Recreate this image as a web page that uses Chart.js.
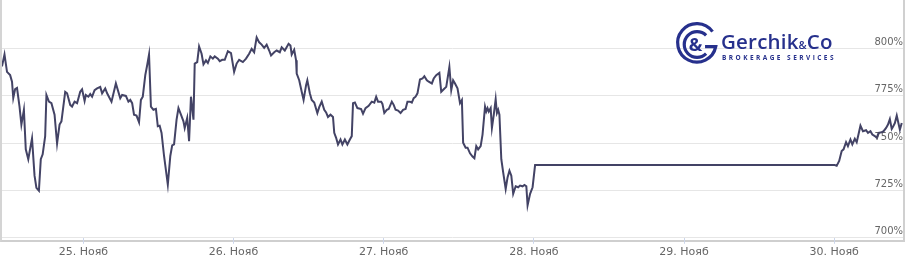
<!DOCTYPE html>
<html>
<head>
<meta charset="utf-8">
<script src="https://cdn.jsdelivr.net/npm/chart.js@4.4.0/dist/chart.umd.min.js"></script>
<style>
  html, body { margin: 0; padding: 0; background: #fff; overflow: hidden; }
  #wrap { position: relative; width: 906px; height: 272px; }
  #frame {
    position: absolute; left: 0; top: -4px; width: 901px; height: 244px;
    border-left: 2px solid #d4d4d4; border-right: 2px solid #d0d0d0; border-bottom: 2px solid #cfcfcf;
  }
  #myChart { position: absolute; left: 0; top: 0; }
  #logo { position: absolute; left: 673px; top: 21px; color: #26308c; }
  #logo svg { position: absolute; left: 0; top: 0; }
  #logo .name {
    position: absolute; left: 48px; top: 10px; white-space: nowrap;
    font: 600 20.5px/20px "Open Sans", sans-serif; letter-spacing: 0.2px;
  }
  #logo .name small { font-size: 11px; font-weight: 600; letter-spacing: 0; }
  #logo .sub {
    position: absolute; left: 49px; top: 33px; white-space: nowrap;
    font: 700 6.5px/8px "Open Sans", sans-serif; letter-spacing: 2.45px;
  }
</style>
</head>
<body>
<div id="wrap">
  <div id="frame"></div>
  <canvas id="myChart" width="906" height="272"></canvas>
  <div id="logo">
    <svg width="47" height="47" viewBox="0 0 44 44">
      <path d="M 37 10 A 18 18 0 1 0 40 24 L 30 24" fill="none" stroke="#26308c" stroke-width="3"/>
      <path d="M 31 13.5 A 12 12 0 1 0 31 30.5" fill="none" stroke="#26308c" stroke-width="3"/>
      <text x="21" y="28" text-anchor="middle" font-family="Open Sans" font-weight="700" font-size="17" fill="#26308c">&amp;</text>
    </svg>
    <span class="name">Gerchik<small>&amp;</small>Co</span>
    <span class="sub">BROKERAGE SERVICES</span>
  </div>
</div>

<script>
// hours since 25 Nov 00:00
var hours = [
  -13.0, -12.6, -12.2, -11.7, -11.4, -11.2, -10.9, -10.6, -10.2, -9.9,
  -9.5, -9.2, -8.8, -8.2, -7.8, -7.5, -7.1, -6.8, -6.5, -6.1,
  -5.9, -5.5, -5.1, -4.6, -4.2, -3.8, -3.5, -2.9, -2.6, -2.1,
  -1.8, -1.4, -1.0, -0.5, -0.2, 0.2, 0.4, 0.8, 1.1, 1.4,
  1.8, 2.2, 2.7, 3.0, 3.5, 3.8, 4.5, 5.2, 5.9, 6.2,
  6.8, 7.2, 7.5, 7.8, 8.1, 8.5, 8.9, 9.2, 9.5, 9.9,
  10.2, 10.5, 10.8, 11.2, 11.6, 11.9, 12.2, 12.5, 12.9, 13.5,
  13.9, 14.2, 14.5, 14.9, 15.2, 15.6, 16.0, 16.2, 16.6, 16.9,
  17.2, 17.6, 17.8, 18.2, 18.5, 18.9, 19.2, 19.6, 19.9, 20.3,
  20.7, 21.0, 21.5, 21.8, 22.2, 22.6, 23.1, 23.6, 24.1, 24.5,
  24.9, 25.5, 26.0, 26.5, 26.9, 27.3, 27.7, 28.1, 28.5, 28.9,
  29.3, 29.7, 30.0, 30.5, 30.9, 31.4, 31.7, 32.2, 32.8, 33.1,
  33.3, 33.7, 34.0, 34.1, 34.5, 34.9, 35.2, 35.6, 35.8, 36.2,
  36.5, 36.9, 37.4, 37.7, 38.1, 38.5, 38.8, 39.1, 39.5, 39.9,
  40.1, 40.4, 40.7, 41.1, 41.4, 41.8, 42.2, 42.6, 42.9, 43.1,
  43.4, 43.8, 44.4, 44.7, 45.1, 45.6, 46.1, 46.5, 46.8, 47.1,
  47.6, 47.8, 48.1, 48.5, 48.8, 49.3, 49.6, 49.9, 50.3, 50.7,
  51.1, 51.5, 51.8, 52.2, 52.5, 52.8, 53.1, 53.4, 53.8, 54.2,
  54.5, 54.9, 55.2, 55.7, 56.0, 56.4, 56.9, 57.2, 57.6, 58.0,
  58.5, 58.8, 59.1, 59.4, 59.8, 60.2, 60.5, 60.7, 61.1, 61.4,
  61.8, 62.2, 62.5, 62.8, 63.1, 63.5, 63.8, 64.2, 64.4, 64.6,
  64.8, 65.1, 65.3, 65.6, 65.9, 66.1, 66.3, 66.5, 66.8, 67.1,
  67.5, 67.8, 68.1, 68.4, 68.7, 69.1, 69.5, 69.8, 70.2, 70.5,
  70.8, 71.0, 71.4, 71.8, 72.2, 120.1, 120.4, 120.8, 121.2, 121.5,
  121.9, 122.2, 122.6, 122.9, 123.3, 123.6, 124.0, 124.2, 124.6, 125.1,
  125.4, 125.8, 126.1, 126.5, 126.8, 127.1, 127.6, 127.9, 128.3, 128.6,
  128.9, 129.2, 129.4, 129.7, 130.0, 130.2, 130.5, 130.8
];

// percent
var values = [
  790.5, 796.8, 787.6, 785.9, 782.4, 773.8, 778.5, 779.1, 769.3, 759.8,
  767.6, 746.7, 741.5, 752.5, 732.8, 726.4, 724.9, 741.5, 744.1, 753.7,
  775.4, 771.9, 771.1, 765.0, 749.8, 759.8, 761.5, 777.1, 776.3, 770.2,
  769.3, 771.9, 771.1, 777.1, 778.4, 772.3, 775.4, 774.5, 775.9, 774.5,
  778.0, 778.9, 779.7, 776.3, 778.9, 776.3, 771.9, 781.5, 773.7, 775.4,
  774.9, 771.9, 772.8, 771.1, 765.0, 764.5, 761.0, 772.8, 774.5, 785.9,
  791.1, 796.8, 769.3, 767.6, 768.1, 758.9, 759.2, 755.4, 743.2, 728.1,
  743.2, 748.8, 749.3, 762.4, 768.5, 765.0, 761.5, 758.0, 763.3, 751.0,
  774.5, 762.4, 792.0, 792.8, 801.0, 797.2, 791.6, 793.7, 792.3, 795.8,
  794.6, 795.8, 794.6, 793.3, 794.0, 794.0, 798.5, 797.5, 787.6, 792.0,
  794.0, 792.8, 794.6, 797.2, 799.8, 798.0, 805.8, 803.2, 802.0, 800.3,
  802.0, 798.9, 796.3, 798.0, 798.9, 798.0, 800.6, 798.9, 802.4, 801.5,
  796.8, 799.3, 793.7, 786.7, 783.2, 777.1, 772.8, 780.6, 783.2, 776.3,
  772.8, 771.4, 765.9, 769.0, 771.9, 767.6, 766.2, 763.8, 765.0, 763.8,
  755.4, 752.8, 749.3, 751.9, 749.3, 751.9, 749.3, 751.9, 753.7, 771.1,
  771.4, 768.5, 768.0, 765.5, 768.5, 769.7, 771.9, 771.4, 774.5, 771.9,
  771.9, 770.7, 765.9, 767.6, 768.0, 771.9, 770.2, 767.6, 767.2, 765.9,
  767.6, 768.0, 771.9, 771.9, 771.4, 773.7, 774.5, 776.3, 783.6, 784.1,
  785.3, 783.2, 782.4, 781.5, 784.1, 785.9, 787.1, 777.1, 778.4, 779.7,
  790.2, 778.0, 783.2, 781.5, 778.9, 771.1, 772.8, 750.2, 747.6, 747.6,
  744.6, 742.9, 742.0, 748.4, 746.7, 748.4, 754.5, 769.3, 766.7, 768.5,
  766.7, 768.5, 758.0, 765.0, 773.2, 765.9, 767.6, 765.0, 741.5, 734.5,
  725.8, 731.9, 735.4, 732.8, 723.2, 727.2, 726.7, 727.6, 727.2, 727.9,
  727.2, 717.1, 723.2, 726.7, 738.4, 738.4, 738.0, 740.6, 745.8, 746.7,
  750.5, 748.4, 751.9, 749.3, 752.3, 750.5, 756.3, 759.2, 756.3, 756.8,
  755.4, 756.3, 754.5, 753.7, 752.8, 755.4, 755.7, 756.3, 758.0, 759.8,
  762.7, 757.5, 758.6, 760.6, 764.5, 761.5, 757.1, 760.6
];

var dayTicks = [0, 24, 48, 72, 96, 120];
var dayLabels = ['25. Нояб', '26. Нояб', '27. Нояб', '28. Нояб', '29. Нояб', '30. Нояб'];
var yTicks = [700, 725, 750, 775, 800];

var points = [];
for (var i = 0; i < hours.length; i++) {
  points.push({x: hours[i], y: values[i]});
}

var config = {
  type: 'line',
  data: {
    datasets: [{
      data: points,
      borderColor: '#434365',
      borderWidth: 2,
      pointRadius: 0,
      tension: 0,
      fill: false
    }]
  },
  options: {
    responsive: false,
    animation: false,
    events: [],
    layout: { padding: { left: 2, right: 3, top: 0, bottom: 11 } },
    plugins: { legend: { display: false }, tooltip: { enabled: false } },
    scales: {
      x: {
        type: 'linear',
        min: -13,
        max: 131,
        afterBuildTicks: function(scale) {
          scale.ticks = dayTicks.map(function(v) { return {value: v}; });
        },
        ticks: {
          autoSkip: false,
          maxRotation: 0,
          padding: 2,
          color: '#666666',
          font: { family: 'DejaVu Sans', size: 11 },
          callback: function(v) {
            var k = dayTicks.indexOf(v);
            return k >= 0 ? dayLabels[k] : '';
          }
        },
        grid: {
          drawOnChartArea: false,
          drawTicks: true,
          tickLength: 6,
          tickColor: '#ccd6eb'
        },
        border: { display: false }
      },
      y: {
        position: 'right',
        min: 700,
        max: 822.4,
        afterBuildTicks: function(scale) {
          scale.ticks = yTicks.map(function(v) { return {value: v}; });
        },
        ticks: {
          mirror: true,
          padding: 0,
          labelOffset: -6,
          color: '#666666',
          font: { family: 'DejaVu Sans', size: 10 },
          callback: function(v) { return v + '%'; }
        },
        grid: { color: '#e6e6e6', lineWidth: 1, drawTicks: false },
        border: { display: false }
      }
    }
  }
};

var myChart = new Chart(document.getElementById('myChart'), config);
</script>
</body>
</html>
